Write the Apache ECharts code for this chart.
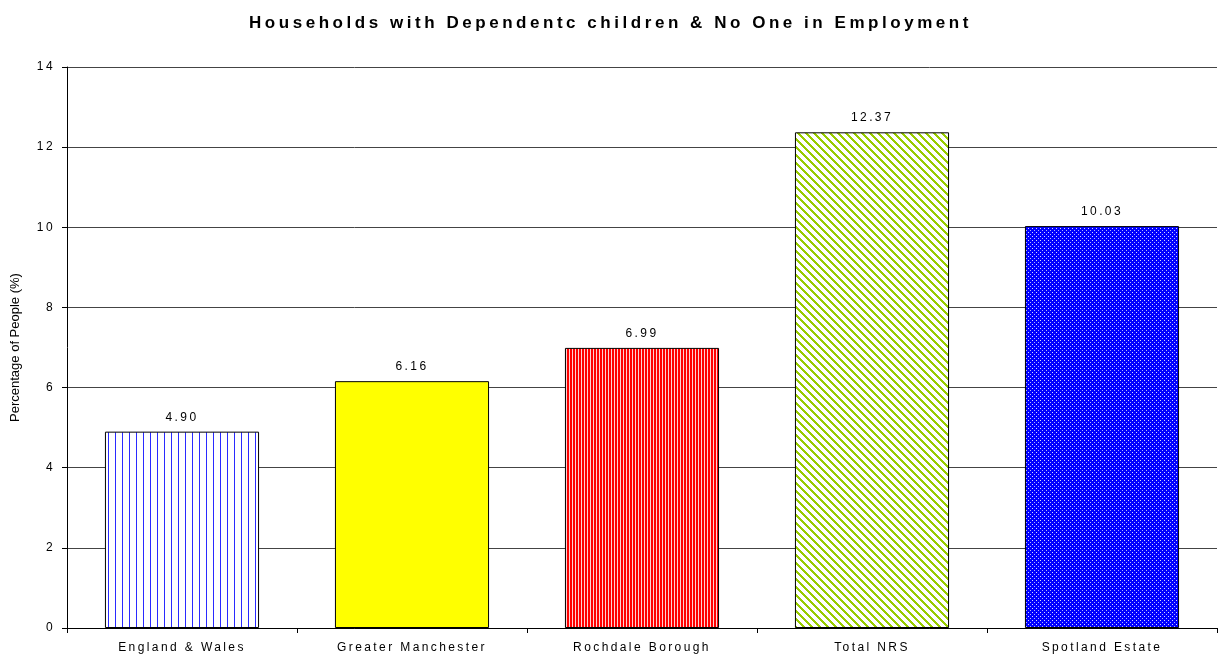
<!DOCTYPE html>
<html><head><meta charset="utf-8">
<script src="https://cdn.jsdelivr.net/npm/echarts@6/dist/echarts.min.js"></script>
<style>html,body{margin:0;padding:0;background:#fff}#c{width:1221px;height:659px}</style>
</head><body><div id="c"></div>
<script>
const title = 'Households with Dependentc children & No One in Employment';
const categories = ['England & Wales', 'Greater Manchester', 'Rochdale Borough', 'Total NRS', 'Spotland Estate'];
const values = [4.90, 6.16, 6.99, 12.37, 10.03];
const yTicks = [0, 2, 4, 6, 8, 10, 12, 14];
const yName = 'Percentage of People (%)';

// expanded letter spacing like the original chart
(function () {
  const P = CanvasRenderingContext2D.prototype;
  const mc = document.createElement('canvas').getContext('2d');
  mc.font = 'bold 17px "Liberation Sans"';
  const tw = mc.measureText(title).width;
  const titleSp = Math.max(0, (723 - tw) / title.length).toFixed(2) + 'px';
  function sp(font) {
    if (/bold/.test(font)) return titleSp;
    if (/\b13px/.test(font)) return '0px';
    if (/\b12px/.test(font)) return '2.4px';
    return '0px';
  }
  ['fillText', 'strokeText', 'measureText'].forEach(function (k) {
    const o = P[k];
    P[k] = function () { try { this.letterSpacing = sp(this.font); } catch (e) {} return o.apply(this, arguments); };
  });
})();

function pat(w, h, draw) {
  const c = document.createElement('canvas'); c.width = w; c.height = h;
  const g = c.getContext('2d'); draw(g, w, h); return { image: c, repeat: 'repeat' };
}
const fills = [
  pat(7, 7, (g) => { g.fillStyle = '#fff'; g.fillRect(0,0,7,7); g.fillStyle = '#2a2aff'; g.fillRect(3,0,1,7); }),
  '#ffff00',
  pat(3, 3, (g) => { g.fillStyle = '#ff0000'; g.fillRect(0,0,3,3); g.fillStyle = '#ffd0d0'; g.fillRect(2,0,1,3); }),
  pat(8, 8, (g) => { g.fillStyle = '#fff'; g.fillRect(0,0,8,8); g.fillStyle = '#99cc00';
    for (let y = 0; y < 8; y++) for (let k = -1; k <= 1; k++) { const x = (y + k*8); g.fillRect(x, y, 3, 1); } }),
  pat(4, 4, (g) => { g.fillStyle = '#0000ff'; g.fillRect(0,0,4,4); g.fillStyle = '#d8d8ff'; g.fillRect(0,0,1,1); g.fillStyle = '#b0b0ff'; g.fillRect(2,2,1,1); })
];

const chart = echarts.init(document.getElementById('c'));
chart.setOption({
  animation: false,
  backgroundColor: '#fff',
  title: { text: title, left: 'center', top: 8,
    textStyle: { fontFamily: 'Liberation Sans', fontWeight: 'bold', fontSize: 17, color: '#000' } },
  grid: { left: 67, right: 4, top: 67, bottom: 31, containLabel: false, outerBoundsMode: 'none' },
  xAxis: {
    type: 'category', data: categories,
    axisLine: { lineStyle: { color: '#000', width: 1 } },
    axisTick: { show: true, length: 5, inside: false, lineStyle: { color: '#000' } },
    axisLabel: { color: '#000', fontFamily: 'Liberation Sans', fontSize: 12, margin: 12 }
  },
  yAxis: {
    type: 'value', min: 0, max: 14, interval: 2,
    name: yName, nameLocation: 'middle', nameGap: 45, nameRotate: 90,
    nameTextStyle: { color: '#000', fontFamily: 'Liberation Sans', fontSize: 13 },
    axisLine: { show: true, lineStyle: { color: '#000', width: 1 } },
    axisTick: { show: true, length: 5, lineStyle: { color: '#000' } },
    axisLabel: { color: '#000', fontFamily: 'Liberation Sans', fontSize: 12, margin: 12,
      formatter: v => yTicks.includes(v) ? String(v) : '' },
    splitLine: { show: true, lineStyle: { color: '#444', width: 1 } }
  },
  series: [{
    type: 'bar', barCategoryGap: '33%',
    data: values.map((v, i) => ({ value: v, itemStyle: { color: fills[i] } })),
    itemStyle: { borderColor: '#000', borderWidth: 1 },
    label: { show: true, position: 'top', distance: 7, color: '#000', fontFamily: 'Liberation Sans', fontSize: 12,
      formatter: p => p.value.toFixed(2) }
  }]
});
</script></body></html>
